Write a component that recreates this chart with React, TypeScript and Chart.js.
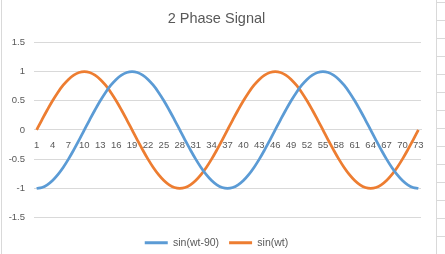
import React, { useEffect, useRef } from "react";
import { Chart, registerables } from "chart.js";

Chart.register(...registerables);

const categories = [
  "1", "2", "3", "4", "5", "6", "7", "8", "9", "10", "11", "12", "13", "14", "15", "16", "17", "18", "19", "20",
  "21", "22", "23", "24", "25", "26", "27", "28", "29", "30", "31", "32", "33", "34", "35", "36", "37", "38", "39", "40",
  "41", "42", "43", "44", "45", "46", "47", "48", "49", "50", "51", "52", "53", "54", "55", "56", "57", "58", "59", "60",
  "61", "62", "63", "64", "65", "66", "67", "68", "69", "70", "71", "72", "73",
];

const sinWt90 = [
  -1, -0.985, -0.94, -0.866, -0.766, -0.643, -0.5, -0.342, -0.174, 0,
  0.174, 0.342, 0.5, 0.643, 0.766, 0.866, 0.94, 0.985, 1, 0.985,
  0.94, 0.866, 0.766, 0.643, 0.5, 0.342, 0.174, 0, -0.174, -0.342,
  -0.5, -0.643, -0.766, -0.866, -0.94, -0.985, -1, -0.985, -0.94, -0.866,
  -0.766, -0.643, -0.5, -0.342, -0.174, 0, 0.174, 0.342, 0.5, 0.643,
  0.766, 0.866, 0.94, 0.985, 1, 0.985, 0.94, 0.866, 0.766, 0.643,
  0.5, 0.342, 0.174, 0, -0.174, -0.342, -0.5, -0.643, -0.766, -0.866,
  -0.94, -0.985, -1,
];

const sinWt = [
  0, 0.174, 0.342, 0.5, 0.643, 0.766, 0.866, 0.94, 0.985, 1,
  0.985, 0.94, 0.866, 0.766, 0.643, 0.5, 0.342, 0.174, 0, -0.174,
  -0.342, -0.5, -0.643, -0.766, -0.866, -0.94, -0.985, -1, -0.985, -0.94,
  -0.866, -0.766, -0.643, -0.5, -0.342, -0.174, 0, 0.174, 0.342, 0.5,
  0.643, 0.766, 0.866, 0.94, 0.985, 1, 0.985, 0.94, 0.866, 0.766,
  0.643, 0.5, 0.342, 0.174, 0, -0.174, -0.342, -0.5, -0.643, -0.766,
  -0.866, -0.94, -0.985, -1, -0.985, -0.94, -0.866, -0.766, -0.643, -0.5,
  -0.342, -0.174, 0,
];

const seriesNames = ["sin(wt-90)", "sin(wt)"];
const seriesColors = ["#5B9BD5", "#ED7D31"];
const titleText = "2 Phase Signal";
const yMin = -1.5;
const yMax = 1.5;
const yStep = 0.5;

const FONT = "'Liberation Sans', Arial, sans-serif";
const TEXT = "#595959";
const GRID = "#d9d9d9";

const sheetLines = {
  id: "sheetLines",
  beforeDraw(chart: any) {
    const shift = 6;
    for (const box of [chart.titleBlock, chart.legend]) {
      if (box && !box._shifted) {
        box._shifted = true;
        box.left += shift;
        box.right += shift;
      }
    }
  },
  afterDraw(chart: any) {
    const ctx = chart.ctx;
    ctx.save();
    ctx.strokeStyle = GRID;
    ctx.lineWidth = 1;
    ctx.beginPath();
    ctx.moveTo(1.5, 0);
    ctx.lineTo(1.5, chart.height);
    ctx.moveTo(436.5, 0);
    ctx.lineTo(436.5, chart.height);
    for (let y = 2.5; y < chart.height; y += 18) {
      ctx.moveTo(437, y);
      ctx.lineTo(chart.width, y);
    }
    ctx.stroke();
    ctx.restore();
  },
};

export default function App() {
  const ref = useRef<HTMLCanvasElement>(null);

  useEffect(() => {
    if (!ref.current) return;
    const chart = new Chart(ref.current, {
      type: "line",
      data: {
        labels: categories,
        datasets: [
          {
            label: seriesNames[0],
            data: sinWt90,
            borderColor: seriesColors[0],
            backgroundColor: seriesColors[0],
            borderWidth: 2.75,
            pointRadius: 0,
            tension: 0.4,
          },
          {
            label: seriesNames[1],
            data: sinWt,
            borderColor: seriesColors[1],
            backgroundColor: seriesColors[1],
            borderWidth: 2.75,
            pointRadius: 0,
            tension: 0.4,
          },
        ],
      },
      options: {
        responsive: false,
        animation: false,
        layout: { padding: { left: 0, right: 24, top: 0, bottom: -4 } },
        plugins: {
          title: {
            display: true,
            text: titleText,
            color: TEXT,
            font: { family: FONT, size: 14.5, weight: "normal" },
            padding: { top: 10, bottom: 15 },
          },
          legend: {
            position: "bottom",
            labels: {
              color: TEXT,
              font: { family: FONT, size: 10.5 },
              boxWidth: 23,
              boxHeight: 3,
              padding: 10,
              generateLabels: (c: any) =>
                Chart.defaults.plugins.legend.labels.generateLabels(c).map((l: any) => ({
                  ...l,
                  lineWidth: 0,
                })),
            },
          },
          tooltip: { enabled: false },
        },
        scales: {
          x: {
            type: "category",
            offset: true,
            position: { y: 0 },
            grid: { display: false, drawTicks: false },
            border: { display: true, color: GRID, width: 1 },
            ticks: {
              autoSkip: false,
              maxRotation: 0,
              minRotation: 0,
              color: TEXT,
              font: { family: FONT, size: 9.5 },
              padding: 10,
              callback: (_v: any, i: number) => (i % 3 === 0 ? categories[i] : ""),
            },
          },
          xSpace: {
            type: "category",
            position: "bottom",
            display: true,
            grid: { display: false, drawTicks: false },
            border: { display: false },
            ticks: { display: false },
            afterFit: (s: any) => {
              s.height = 10;
            },
          },
          y: {
            min: yMin,
            max: yMax,
            grid: { color: GRID, drawTicks: false },
            border: { display: false },
            ticks: {
              stepSize: yStep,
              color: TEXT,
              font: { family: FONT, size: 9.5 },
              padding: 9,
              callback: (v: any) => String(v),
            },
            afterFit: (s: any) => {
              s.width = 34;
            },
          },
        },
      },
      plugins: [sheetLines],
    } as any);
    return () => chart.destroy();
  }, []);

  return (
    <div style={{ position: "fixed", left: 0, top: 0, width: 445, height: 254, background: "#fff" }}>
      <canvas ref={ref} width={445} height={254} style={{ display: "block" }} />
    </div>
  );
}
